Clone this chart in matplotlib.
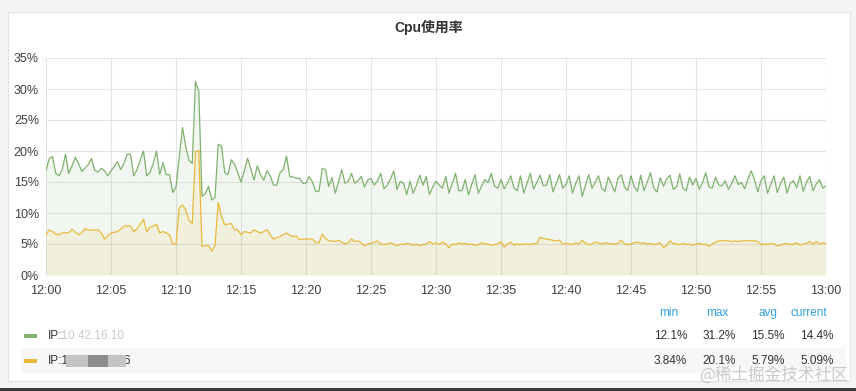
import numpy as np
import pandas as pd
import matplotlib
matplotlib.use("Agg")
import matplotlib.pyplot as plt
from matplotlib.patches import Rectangle

plt.rcParams['font.family'] = ['Liberation Sans', 'Noto Sans CJK SC', 'DejaVu Sans']

title = "Cpu使用率"
series_names = ["IP:10.42.16.10", "IP:10.202.45.76"]
series_colors = ["#7eb26d", "#eab839"]

# 15-second samples, 12:00 -> 13:00 (4 per minute)
green = [
    16.9, 18.8, 19.1, 16.4,
    16.0, 17.0, 19.5, 16.4,
    17.6, 19.0, 18.0, 16.7,
    17.2, 17.8, 18.8, 16.9,
    16.6, 17.2, 16.8, 16.0,
    16.8, 17.5, 18.3, 17.0,
    18.0, 19.5, 19.5, 16.0,
    17.0, 18.5, 20.0, 16.0,
    16.5, 18.0, 20.0, 16.2,
    18.1, 16.2, 16.2, 13.3,
    14.2, 19.0, 23.8, 20.7,
    18.5, 18.0, 31.2, 29.7,
    12.7, 13.1, 14.3, 12.1,
    12.5, 21.1, 20.8, 16.5,
    16.2, 18.6, 17.9, 16.5,
    15.0, 16.8, 18.8, 17.2,
    15.3, 17.6, 16.2, 15.3,
    16.8, 16.0, 14.5, 14.5,
    16.5, 17.0, 19.2, 15.9,
    15.8, 15.6, 15.6, 14.8,
    14.8, 15.9, 15.0, 13.5,
    13.5, 17.2, 17.0, 14.3,
    15.7, 13.2, 15.0, 17.0,
    14.8, 15.1, 16.4, 14.8,
    15.2, 15.9, 14.2, 15.3,
    15.6, 14.5, 15.2, 16.4,
    13.9, 14.5, 15.5, 16.8,
    13.8, 15.1, 14.8, 13.0,
    15.1, 13.2, 14.5, 16.1,
    14.5, 15.9, 13.0, 14.2,
    15.1, 14.5, 14.0, 15.9,
    13.2, 14.8, 16.4, 13.6,
    13.6, 15.4, 12.9, 14.6,
    16.2, 13.2, 14.3, 15.4,
    14.9, 16.4, 14.3, 14.0,
    15.4, 13.9, 14.8, 16.0,
    14.0, 13.6, 16.0, 13.2,
    14.8, 16.4, 13.9, 14.9,
    16.1, 14.4, 14.5, 16.2,
    13.4, 14.8, 16.2, 14.0,
    14.6, 16.0, 13.2, 14.8,
    16.0, 12.7, 14.5, 16.2,
    14.0, 15.0, 16.0, 14.0,
    13.5, 15.8, 14.6, 13.4,
    15.6, 16.2, 14.2, 13.6,
    16.0, 14.3, 13.5, 16.1,
    13.6, 15.0, 16.5, 14.0,
    13.4, 15.7, 14.3, 15.5,
    16.1, 13.8, 14.2, 16.3,
    14.0, 13.6, 15.8, 14.5,
    15.6, 13.8, 14.9, 16.5,
    14.2, 14.0, 15.8, 14.5,
    14.4, 15.2, 13.8, 14.8,
    16.0, 14.6, 14.9, 13.9,
    15.5, 16.8, 15.4, 13.4,
    15.2, 16.0, 13.2, 14.6,
    16.0, 13.3, 14.8, 15.8,
    13.2, 14.8, 15.2, 14.1,
    16.0, 13.5, 15.0, 15.9,
    13.6, 14.7, 15.4, 14.0,
    14.4,
]

yellow = [
    6.45, 7.3, 7.0, 6.6,
    6.5, 6.8, 6.8, 6.8,
    7.4, 6.9, 6.5, 6.8,
    7.5, 7.2, 7.3, 7.2,
    7.3, 6.8, 5.8, 6.3,
    6.8, 6.9, 7.0, 7.4,
    7.9, 7.9, 7.9, 7.0,
    7.4, 8.2, 9.0, 7.0,
    7.7, 7.9, 8.2, 6.8,
    7.0, 6.8, 6.5, 5.0,
    5.0, 10.8, 11.3, 10.5,
    8.8, 8.3, 19.9, 20.1,
    4.6, 4.7, 4.8, 3.84,
    4.8, 11.7, 9.4, 8.1,
    8.2, 8.3, 7.3, 7.3,
    6.5, 7.0, 6.9, 6.8,
    7.3, 7.0, 6.8, 7.0,
    7.3, 6.5, 5.8, 6.0,
    6.2, 6.5, 6.8, 6.4,
    6.2, 6.3, 5.7, 5.8,
    5.8, 5.8, 5.8, 5.2,
    5.2, 6.6, 5.9, 5.5,
    5.5, 5.4, 5.6, 5.3,
    5.0, 5.2, 5.8, 5.4,
    5.5, 5.2, 4.7, 5.0,
    5.1, 5.3, 5.5, 5.0,
    4.9, 5.0, 5.2, 5.0,
    4.7, 5.0, 4.9, 5.1,
    5.0, 4.8, 5.0, 4.7,
    4.9, 5.0, 5.4, 5.0,
    5.2, 4.9, 5.3, 5.0,
    4.4, 5.0, 4.9, 5.2,
    5.0, 5.1, 4.9, 5.0,
    4.8, 4.9, 5.2, 5.0,
    5.0, 4.8, 4.9, 5.0,
    5.4, 4.5, 5.0, 5.3,
    4.8, 5.0, 4.9, 5.0,
    5.0, 4.9, 5.1, 5.0,
    6.1, 5.9, 5.8, 5.7,
    5.6, 5.5, 5.6, 5.0,
    5.1, 5.0, 4.9, 5.2,
    5.0, 5.6, 5.1, 4.9,
    5.0, 5.3, 5.2, 5.0,
    5.2, 5.1, 5.0, 5.0,
    5.1, 5.6, 5.0, 4.9,
    5.0, 5.2, 5.3, 5.1,
    5.2, 5.0, 5.1, 4.9,
    5.0, 5.2, 4.4, 4.8,
    5.5, 5.1, 5.0, 4.9,
    5.1, 4.9, 5.0, 4.8,
    5.0, 5.1, 4.9, 5.0,
    4.6, 5.0, 5.3, 5.5,
    5.5, 5.6, 5.5, 5.4,
    5.5, 5.4, 5.5, 5.5,
    5.6, 5.5, 5.5, 5.4,
    4.9, 5.0, 4.9, 5.1,
    5.0, 4.7, 4.8, 5.0,
    5.1, 4.9, 5.0, 5.2,
    4.8, 5.0, 5.1, 5.4,
    5.0, 5.4, 5.0, 5.2,
    5.09,
]

y_ticks = [0, 5, 10, 15, 20, 25, 30, 35]
x_tick_labels = ["12:00", "12:05", "12:10", "12:15", "12:20", "12:25",
                 "12:30", "12:35", "12:40", "12:45", "12:50", "12:55", "13:00"]
stat_headers = ["min", "max", "avg", "current"]
green_stats = ["12.1%", "31.2%", "15.5%", "14.4%"]
yellow_stats = ["3.84%", "20.1%", "5.79%", "5.09%"]
watermark = "@稀土掘金技术社区"

day = "2023-01-01 "
times = pd.date_range(day + "12:00", periods=len(green), freq="15s")
tick_times = pd.to_datetime([day + t for t in x_tick_labels])

W, H = 856, 391
fig = plt.figure(figsize=(W / 100, H / 100), dpi=100)
fig.patch.set_facecolor("#f3f4f6")


def fx(px):
    return px / W


def fy(py):
    return 1 - py / H


# white panel
fig.add_artist(Rectangle((fx(8), fy(381)), fx(850 - 8), (381 - 12) / H,
                         transform=fig.transFigure, facecolor="white",
                         edgecolor="#e2e3e6", lw=0.8, zorder=0))
# bottom dark strip
fig.add_artist(Rectangle((0, 0), 1, 3 / H, transform=fig.transFigure,
                         facecolor="#3a3a3a", edgecolor="none", zorder=0))

fig.text(fx(429), fy(27), title, ha="center", va="center", fontsize=10,
         fontweight="bold", color="#333333")

ax = fig.add_axes([fx(46), fy(275), fx(780), 217 / H])
ax.set_facecolor("none")
for s in ax.spines.values():
    s.set_visible(False)

series = [green, yellow]
for vals, col in zip(series, series_colors):
    ax.fill_between(times, vals, 0, color=col, alpha=0.1, lw=0)
    ax.plot(times, vals, color=col, lw=0.9)

ax.set_ylim(0, 35)
ax.set_xlim(times[0], times[-1])
ax.set_yticks(y_ticks)
ax.set_yticklabels([f"{v}%" for v in y_ticks])
ax.set_xticks(tick_times)
ax.set_xticklabels(x_tick_labels)
ax.tick_params(axis="both", length=0, labelsize=9, labelcolor="#404040")
ax.tick_params(axis="y", pad=5)
ax.tick_params(axis="x", pad=7)
ax.grid(True, color="#e4e4e4", lw=0.8)
ax.set_axisbelow(True)

# legend
fig.add_artist(Rectangle((fx(21), fy(373)), fx(846 - 21), 25 / H,
                         transform=fig.transFigure, facecolor="#f7f7f7",
                         edgecolor="none", zorder=0))
row_y = [336, 361]
stat_right = [687, 736, 785, 834]
head_right = [678, 728, 777, 827]
for hx, h in zip(head_right, stat_headers):
    fig.text(fx(hx), fy(313), h, ha="right", va="center", fontsize=8.5,
             color="#33a2e5")
for ry, name, col, stats in zip(row_y, series_names, series_colors,
                                [green_stats, yellow_stats]):
    fig.add_artist(Rectangle((fx(24), fy(ry + 1.6)), fx(13), 3.2 / H,
                             transform=fig.transFigure, facecolor=col,
                             edgecolor="none"))
    fig.text(fx(48), fy(ry), name, ha="left", va="center", fontsize=8.5,
             color="#333333")
    for sx, sv in zip(stat_right, stats):
        fig.text(fx(sx), fy(ry), sv, ha="right", va="center", fontsize=8.5,
                 color="#333333")

# redaction masks over the IP addresses
fig.add_artist(Rectangle((fx(63), fy(342)), fx(62), 12 / H,
                         transform=fig.transFigure, facecolor="white",
                         alpha=0.75, edgecolor="none", zorder=5))
fig.add_artist(Rectangle((fx(66), fy(367)), fx(60), 12 / H,
                         transform=fig.transFigure, facecolor="#c4c4c4",
                         edgecolor="none", zorder=5))
fig.add_artist(Rectangle((fx(88), fy(367)), fx(20), 12 / H,
                         transform=fig.transFigure, facecolor="#8c8c8c",
                         edgecolor="none", zorder=6))

fig.text(fx(848), fy(375), watermark, ha="right", va="center", fontsize=12,
         color="#c9c9c9", family=["Noto Sans CJK SC", "DejaVu Sans"])

fig.savefig("out.png", dpi=100, facecolor=fig.get_facecolor())
